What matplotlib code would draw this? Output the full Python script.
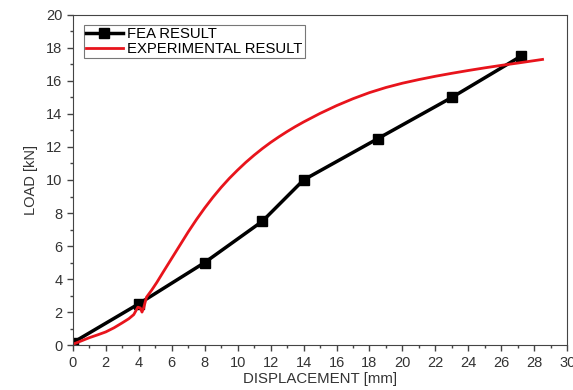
import matplotlib
matplotlib.use("Agg")
import matplotlib.pyplot as plt
from matplotlib.ticker import MultipleLocator

plt.rcParams['font.family'] = ['Liberation Sans', 'DejaVu Sans']

# FEA result
fea_disp = [0, 4, 8, 11.5, 14, 18.5, 23, 27.2]
fea_load = [0.15, 2.5, 5, 7.5, 10, 12.5, 15, 17.5]

# experimental result
exp_disp = [0, 0.5, 1, 1.5, 2, 2.5, 3, 3.4, 3.7, 3.95, 4.1, 4.2, 4.3, 4.47, 4.8, 5.1, 5.5,
            6, 6.5, 7, 7.5, 8, 8.5, 9, 9.5, 10, 10.5, 11, 11.5, 12, 12.5, 13, 13.5, 14,
            15, 16, 17, 18, 19, 20, 21, 22, 23, 24, 25, 26, 27, 28.5]
exp_load = [0.05, 0.25, 0.45, 0.62, 0.8, 1.05, 1.35, 1.6, 1.85, 2.3, 2.25, 2.0, 2.25, 2.9, 3.35, 3.8, 4.45,
            5.25, 6.05, 6.85, 7.6, 8.3, 8.95, 9.55, 10.1, 10.6, 11.07, 11.5, 11.9, 12.27, 12.61, 12.93, 13.23, 13.51,
            14.03, 14.5, 14.92, 15.29, 15.6, 15.86, 16.08, 16.28, 16.46, 16.63, 16.79, 16.94, 17.08, 17.3]

fig = plt.figure(figsize=(5.73, 3.9), dpi=100)
ax = fig.add_axes([0.127, 0.115, 0.863, 0.847])

ax.plot(fea_disp, fea_load, color='black', lw=2.5, marker='s', ms=7, label='FEA RESULT')
ax.plot(exp_disp, exp_load, color='#e8141c', lw=2.0, label='EXPERIMENTAL RESULT')

ax.set_xlim(0, 30)
ax.set_ylim(0, 20)
ax.xaxis.set_major_locator(MultipleLocator(2))
ax.xaxis.set_minor_locator(MultipleLocator(1))
ax.yaxis.set_major_locator(MultipleLocator(2))
ax.yaxis.set_minor_locator(MultipleLocator(1))
ax.tick_params(which='major', length=4, width=1, labelsize=10.5, color='#444444', labelcolor='#333333')
ax.tick_params(which='minor', length=2.5, width=1, color='#444444')
for s in ax.spines.values():
    s.set_color('#444444')

ax.set_xlabel('DISPLACEMENT [mm]', fontsize=10.8, color='#333333', labelpad=2)
ax.set_ylabel('LOAD [kN]', fontsize=10.5, color='#333333', labelpad=6)

leg = ax.legend(loc='upper left', bbox_to_anchor=(0.022, 0.97), fontsize=10.7, frameon=True,
                fancybox=False, edgecolor='#555555', borderpad=0.15, labelspacing=0.05,
                handlelength=2.5, handletextpad=0.3, borderaxespad=0)
leg.get_frame().set_linewidth(0.8)

fig.savefig('out.png', dpi=100)
